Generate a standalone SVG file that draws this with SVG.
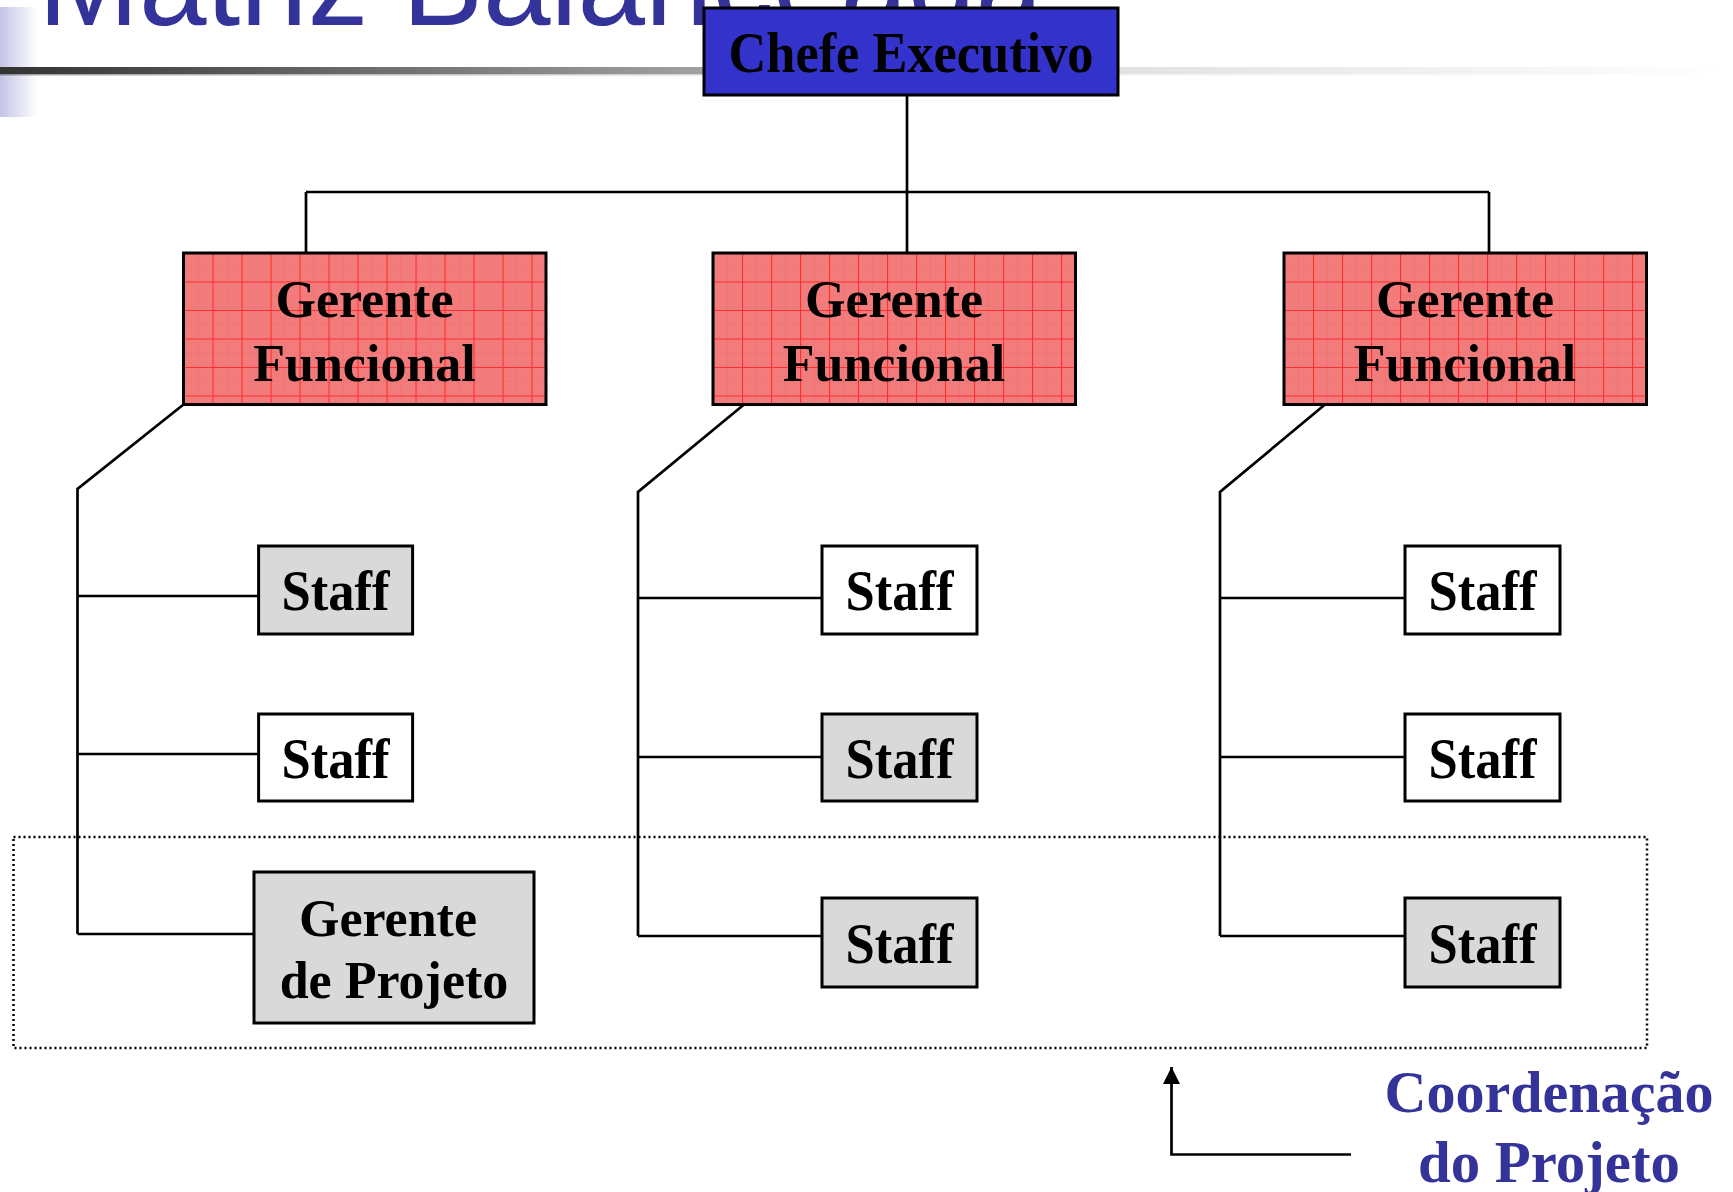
<svg xmlns="http://www.w3.org/2000/svg" width="1733" height="1192" viewBox="0 0 1733 1192">
<defs>
<linearGradient id="barGrad" x1="0" y1="0" x2="1" y2="0">
<stop offset="0" stop-color="#C4C4E6"/>
<stop offset="1" stop-color="#FFFFFF"/>
</linearGradient>
<linearGradient id="lineGrad" x1="0" y1="0" x2="1" y2="0">
<stop offset="0" stop-color="#333333"/>
<stop offset="0.4" stop-color="#A0A0A0"/>
<stop offset="0.65" stop-color="#E2E2E2"/>
<stop offset="1" stop-color="#FFFFFF"/>
</linearGradient>
<pattern id="grid" patternUnits="userSpaceOnUse" x="0" y="0" width="29" height="28.5">
<rect width="29" height="28.5" fill="#F27C7C"/>
<path d="M0 14.25 H29 M14.5 0 V28.5" stroke="#F46A6A" stroke-width="0.6"/>
<path d="M0 0.5 H29 M0.5 0 V28.5" stroke="#FF2E2E" stroke-width="1.2"/>
</pattern>
<marker id="arrow" viewBox="0 0 10 10" refX="10" refY="5" markerWidth="17" markerHeight="17" markerUnits="userSpaceOnUse" orient="auto">
<path d="M0 0 L10 5 L0 10 Z" fill="#000"/>
</marker>
<style>
.box{stroke:#000;stroke-width:3}
.func{fill:url(#grid)}
.gray{fill:#D9D9D9}
.white{fill:#FFFFFF}
.t{font-family:"Liberation Serif","Times New Roman",serif;font-weight:bold;fill:#000;text-anchor:middle}
.conn{stroke:#000;stroke-width:2.7;fill:none}
</style>
</defs>

<g id="title-decor">
<rect x="0" y="7" width="38" height="110" fill="url(#barGrad)"/>
<text x="38" y="25" font-family="Liberation Sans, Arial, sans-serif" font-size="124" fill="#333399" textLength="1005" lengthAdjust="spacingAndGlyphs">Matriz Balanceada</text>
<rect x="0" y="67" width="1733" height="7" fill="url(#lineGrad)"/>
<rect x="0" y="74" width="1733" height="1.5" fill="url(#lineGrad)" opacity="0.45"/>
</g>

<g id="connectors">
<path class="conn" d="M907 95 V192 M306 192 H1489 M306 192 V253 M907 192 V253 M1489 192 V253"/>
<path class="conn" d="M183.5 404.5 L77.5 489 V934 M77.5 596 H258.6 M77.5 754 H258.6 M77.5 934 H254"/>
<path class="conn" d="M744 404.5 L638 492 V936 M638 598 H822 M638 757 H822 M638 936 H822"/>
<path class="conn" d="M1325 404.5 L1220 492 V936 M1220 598 H1405 M1220 757 H1405 M1220 936 H1405"/>
<path class="conn" d="M1351 1154.5 H1171.5 V1067" marker-end="url(#arrow)"/>
</g>

<g id="project-coordination-area">
<rect x="13.5" y="837" width="1633.5" height="211" fill="none" stroke="#000" stroke-width="2.5" stroke-dasharray="2 3"/>
</g>

<g id="chefe">
<rect class="box" x="704" y="8" width="414" height="87" fill="#3333CC"/>
<text class="t" x="911" y="72" font-size="56" textLength="365" lengthAdjust="spacingAndGlyphs">Chefe Executivo</text>
</g>

<g id="gf1" transform="translate(183.5,253)">
<rect class="box func" x="0" y="0" width="362.5" height="151.5"/>
<text class="t" x="181" y="64" font-size="52">Gerente</text>
<text class="t" x="181" y="128" font-size="52">Funcional</text>
</g>
<g id="gf2" transform="translate(713,253)">
<rect class="box func" x="0" y="0" width="362.5" height="151.5"/>
<text class="t" x="181" y="64" font-size="52">Gerente</text>
<text class="t" x="181" y="128" font-size="52">Funcional</text>
</g>
<g id="gf3" transform="translate(1284,253)">
<rect class="box func" x="0" y="0" width="362.5" height="151.5"/>
<text class="t" x="181" y="64" font-size="52">Gerente</text>
<text class="t" x="181" y="128" font-size="52">Funcional</text>
</g>

<g id="staff-1-1"><rect class="box gray" x="258.6" y="546" width="154" height="88"/><text class="t" x="335.6" y="610" font-size="58" textLength="108" lengthAdjust="spacingAndGlyphs">Staff</text></g>
<g id="staff-1-2"><rect class="box white" x="258.6" y="714" width="154" height="87"/><text class="t" x="335.6" y="778" font-size="58" textLength="108" lengthAdjust="spacingAndGlyphs">Staff</text></g>
<g id="gerente-projeto"><rect class="box gray" x="254" y="872" width="280" height="151"/><text class="t" x="388" y="936" font-size="52">Gerente</text><text class="t" x="394" y="998" font-size="52">de Projeto</text></g>

<g id="staff-2-1"><rect class="box white" x="822" y="546" width="155" height="88"/><text class="t" x="899.5" y="610" font-size="58" textLength="108" lengthAdjust="spacingAndGlyphs">Staff</text></g>
<g id="staff-2-2"><rect class="box gray" x="822" y="714" width="155" height="87"/><text class="t" x="899.5" y="778" font-size="58" textLength="108" lengthAdjust="spacingAndGlyphs">Staff</text></g>
<g id="staff-2-3"><rect class="box gray" x="822" y="898" width="155" height="89"/><text class="t" x="899.5" y="963" font-size="58" textLength="108" lengthAdjust="spacingAndGlyphs">Staff</text></g>

<g id="staff-3-1"><rect class="box white" x="1405" y="546" width="155" height="88"/><text class="t" x="1482.5" y="610" font-size="58" textLength="108" lengthAdjust="spacingAndGlyphs">Staff</text></g>
<g id="staff-3-2"><rect class="box white" x="1405" y="714" width="155" height="87"/><text class="t" x="1482.5" y="778" font-size="58" textLength="108" lengthAdjust="spacingAndGlyphs">Staff</text></g>
<g id="staff-3-3"><rect class="box gray" x="1405" y="898" width="155" height="89"/><text class="t" x="1482.5" y="963" font-size="58" textLength="108" lengthAdjust="spacingAndGlyphs">Staff</text></g>

<g id="coord-label">
<text class="t" x="1549" y="1112" font-size="60" style="fill:#333399" textLength="329" lengthAdjust="spacingAndGlyphs">Coordenação</text>
<text class="t" x="1549" y="1182" font-size="60" style="fill:#333399" textLength="262" lengthAdjust="spacingAndGlyphs">do Projeto</text>
</g>
</svg>
